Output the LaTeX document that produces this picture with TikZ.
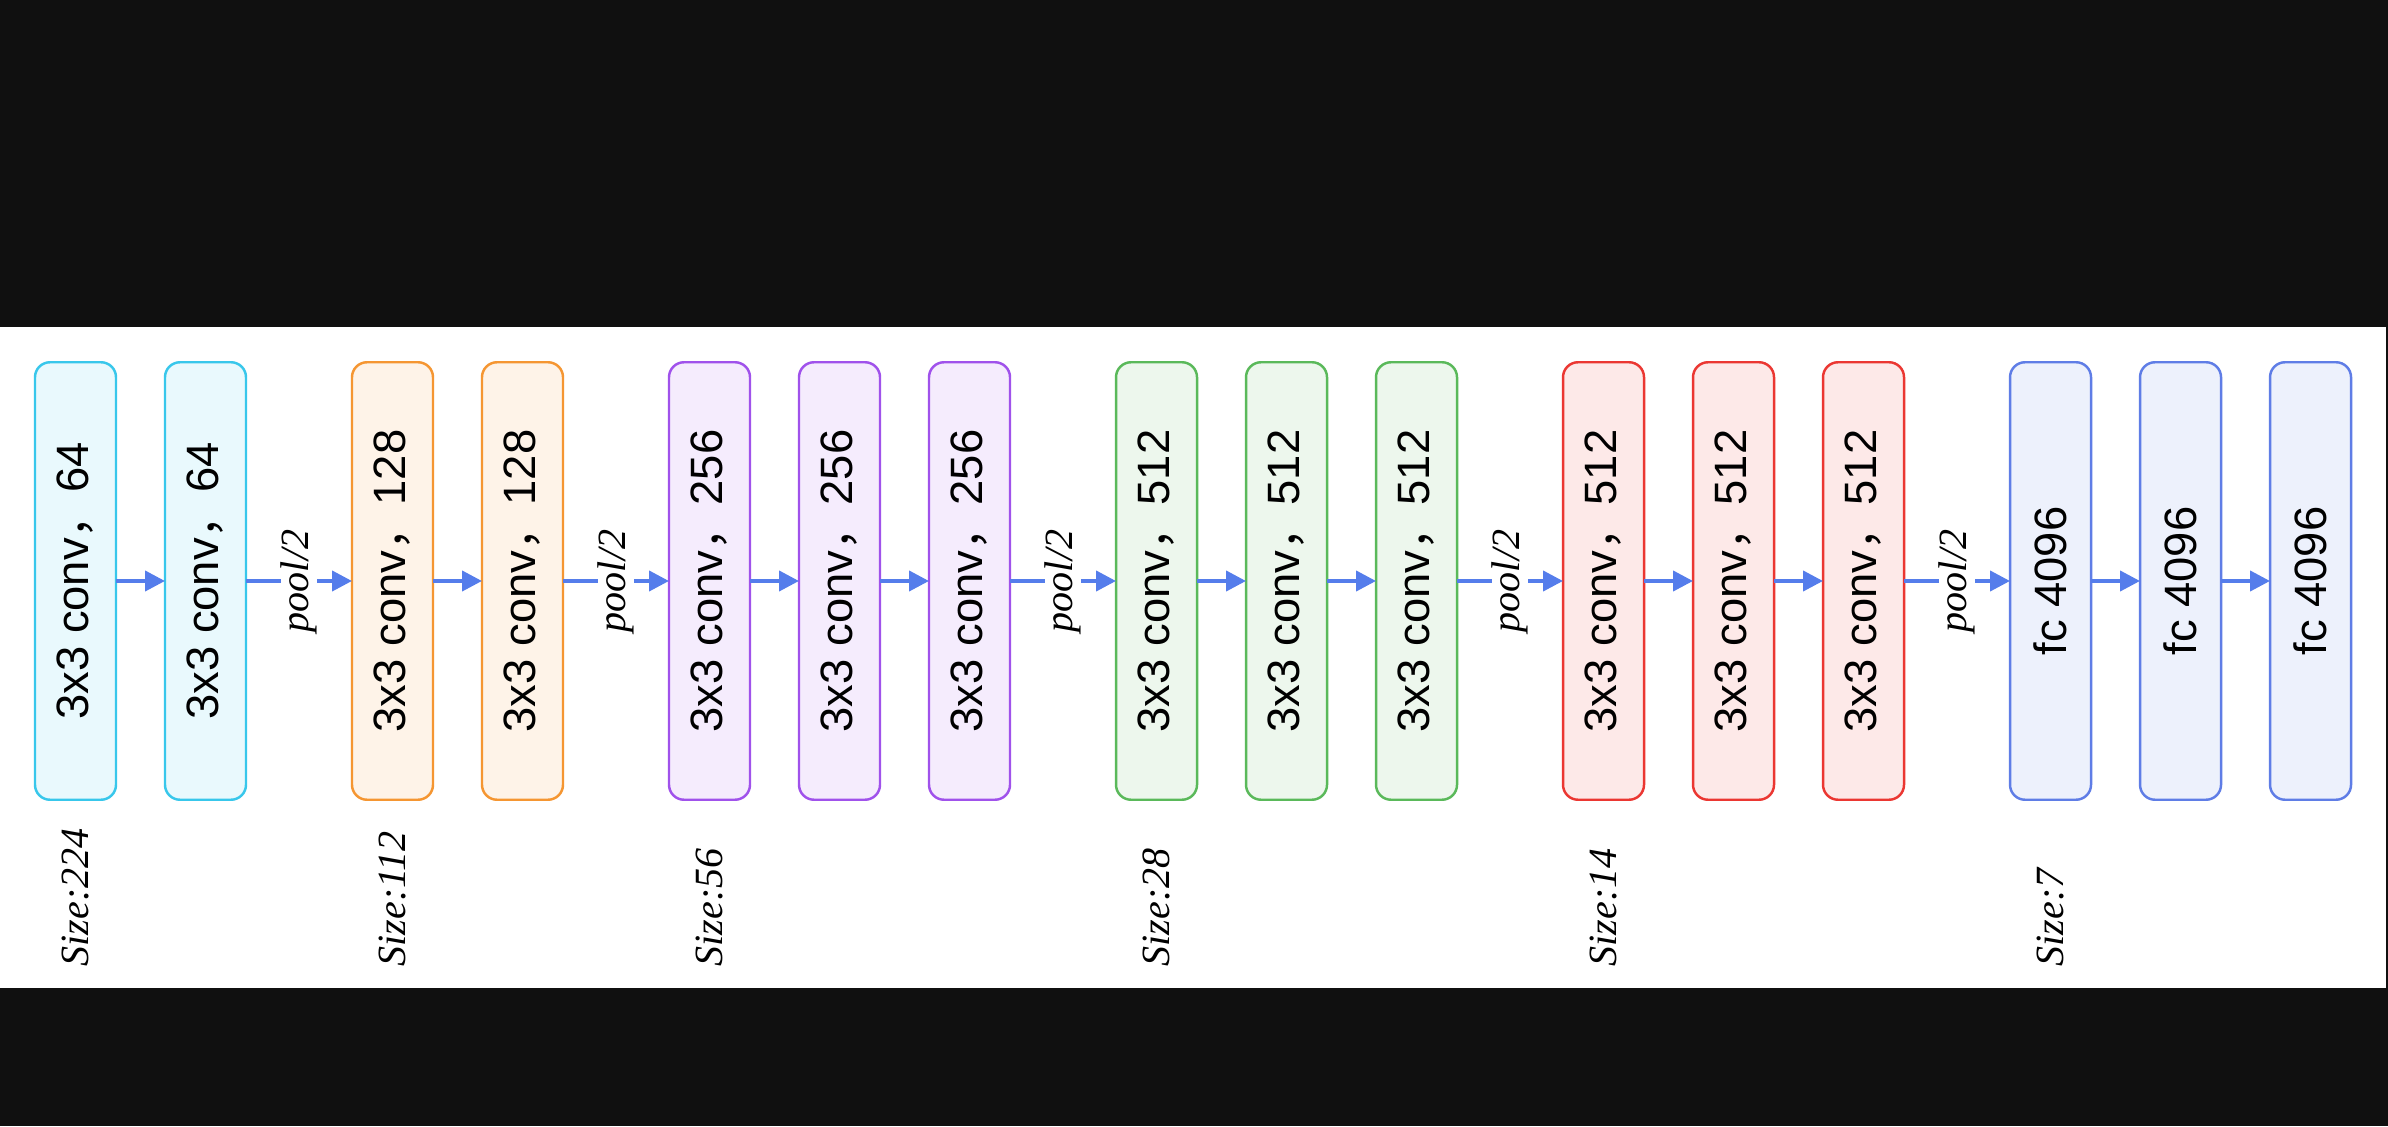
\documentclass[tikz,border=0pt]{standalone}
\usepackage{fontspec}
\setmainfont{Liberation Serif}
\setsansfont{Liberation Sans}
\newfontfamily\cjk{Noto Sans CJK SC}
\usetikzlibrary{arrows.meta,positioning}
\definecolor{cbg}{RGB}{16,16,16}
\definecolor{cflow}{RGB}{85,125,235}
\definecolor{cs224}{RGB}{56,199,235}
\definecolor{cs112}{RGB}{245,150,50}
\definecolor{cs56}{RGB}{160,82,235}
\definecolor{cs28}{RGB}{90,185,90}
\definecolor{cs14}{RGB}{235,55,50}
\definecolor{cs7}{RGB}{95,125,230}
\newcommand{\vtext}[1]{\rotatebox{90}{#1}}
\newcommand{\fwc}{{\cjk ，}}

\begin{document}
\begin{tikzpicture}[>={Triangle[length=0.2cm,width=0.2cm]},node distance=0.49cm,
  layer/.style={draw=#1,fill=#1!11,line width=0.7pt,rounded corners=0.15cm,minimum width=0.81cm,minimum height=4.375cm,inner sep=0pt,outer sep=0pt,font=\sffamily\fontsize{12.9}{15}\selectfont},
  flow/.style={->,cflow,line width=0.04cm},
  pool/.style={fill=white,text=black,inner sep=0pt,font=\itshape\fontsize{11.4}{13}\selectfont},
  size/.style={anchor=south,inner sep=0pt,font=\itshape\fontsize{11.4}{13}\selectfont}]
  \useasboundingbox (0,0) rectangle (23.88,11.26);
  \fill[cbg] (0,0) rectangle (23.88,11.26);
  \fill[white] (0,1.38) rectangle (23.86,7.99);
  \coordinate (base) at (0,1.59);
  % size 224
  \node[layer=cs224] (c1a) at (0.755,5.45) {\vtext{3x3 conv\fwc 64}};
  \node[layer=cs224,right=of c1a] (c1b) {\vtext{3x3 conv\fwc 64}};
  % size 112
  \node[layer=cs112,right=1.06cm of c1b] (c2a) {\vtext{3x3 conv\fwc 128}};
  \node[layer=cs112,right=of c2a] (c2b) {\vtext{3x3 conv\fwc 128}};
  % size 56
  \node[layer=cs56,right=1.06cm of c2b] (c3a) {\vtext{3x3 conv\fwc 256}};
  \node[layer=cs56,right=of c3a] (c3b) {\vtext{3x3 conv\fwc 256}};
  \node[layer=cs56,right=of c3b] (c3c) {\vtext{3x3 conv\fwc 256}};
  % size 28
  \node[layer=cs28,right=1.06cm of c3c] (c4a) {\vtext{3x3 conv\fwc 512}};
  \node[layer=cs28,right=of c4a] (c4b) {\vtext{3x3 conv\fwc 512}};
  \node[layer=cs28,right=of c4b] (c4c) {\vtext{3x3 conv\fwc 512}};
  % size 14
  \node[layer=cs14,right=1.06cm of c4c] (c5a) {\vtext{3x3 conv\fwc 512}};
  \node[layer=cs14,right=of c5a] (c5b) {\vtext{3x3 conv\fwc 512}};
  \node[layer=cs14,right=of c5b] (c5c) {\vtext{3x3 conv\fwc 512}};
  % size 7
  \node[layer=cs7,right=1.06cm of c5c] (fc1) {\vtext{fc 4096}};
  \node[layer=cs7,right=of fc1] (fc2) {\vtext{fc 4096}};
  \node[layer=cs7,right=of fc2] (fc3) {\vtext{fc 4096}};
  \node[size] (s224) at (c1a |- base) {\vtext{Size:224}};
  \node[size] (s112) at (c2a |- base) {\vtext{Size:112}};
  \node[size] (s56) at (c3a |- base) {\vtext{Size:56}};
  \node[size] (s28) at (c4a |- base) {\vtext{Size:28}};
  \node[size] (s14) at (c5a |- base) {\vtext{Size:14}};
  \node[size] (s7) at (fc1 |- base) {\vtext{Size:7}};
  \draw[flow] (c1a) -- (c1b);
  \draw[flow] (c1b) -- node[pool]{\vtext{pool/2}} (c2a);
  \draw[flow] (c2a) -- (c2b);
  \draw[flow] (c2b) -- node[pool]{\vtext{pool/2}} (c3a);
  \draw[flow] (c3a) -- (c3b);
  \draw[flow] (c3b) -- (c3c);
  \draw[flow] (c3c) -- node[pool]{\vtext{pool/2}} (c4a);
  \draw[flow] (c4a) -- (c4b);
  \draw[flow] (c4b) -- (c4c);
  \draw[flow] (c4c) -- node[pool]{\vtext{pool/2}} (c5a);
  \draw[flow] (c5a) -- (c5b);
  \draw[flow] (c5b) -- (c5c);
  \draw[flow] (c5c) -- node[pool]{\vtext{pool/2}} (fc1);
  \draw[flow] (fc1) -- (fc2);
  \draw[flow] (fc2) -- (fc3);
\end{tikzpicture}
\end{document}
